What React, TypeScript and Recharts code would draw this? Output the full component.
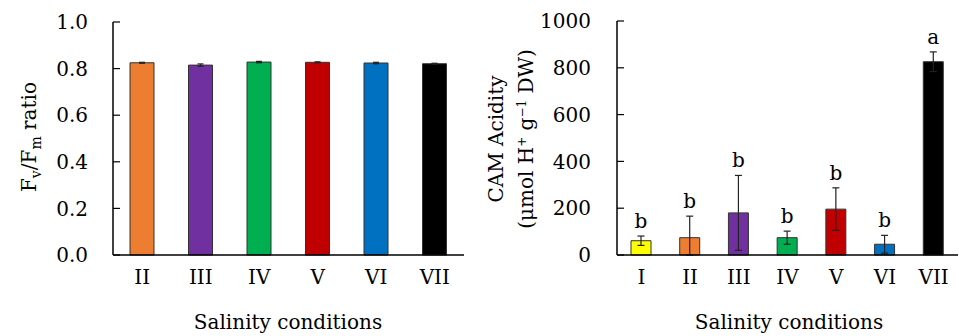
import { BarChart, Bar, XAxis, YAxis, ErrorBar, Cell, LabelList, Label } from 'recharts'

const catsA = ['II', 'III', 'IV', 'V', 'VI', 'VII']
const fvfm = [0.825, 0.815, 0.828, 0.827, 0.824, 0.821]
const fvfmErr = [0.002, 0.005, 0.003, 0.002, 0.003, 0.002]
const colorsA = ['#ED7D31', '#7030A0', '#00B050', '#C00000', '#0070C0', '#000000']
const ticksA = [0, 0.2, 0.4, 0.6, 0.8, 1.0]

const catsB = ['I', 'II', 'III', 'IV', 'V', 'VI', 'VII']
const cam = [61, 74, 180, 74, 196, 46, 826]
const camErrLow = [20, 74, 160, 28, 91, 38, 42]
const camErrHigh = [20, 92, 160, 28, 91, 38, 42]
const camLetters = ['b', 'b', 'b', 'b', 'b', 'b', 'a']
const colorsB = ['#FFFF00', '#ED7D31', '#7030A0', '#00B050', '#C00000', '#0070C0', '#000000']
const ticksB = [0, 200, 400, 600, 800, 1000]

const FONT = "'DejaVu Serif', serif"
const FS = 20
const axisLine = { stroke: '#000', strokeWidth: 1.5 }
const tickStyle = { fill: '#000', fontSize: FS, fontFamily: FONT }

const dataA = catsA.map((c, i) => ({ cat: c, v: fvfm[i], err: fvfmErr[i] }))
const dataB = catsB.map((c, i) => ({
  cat: c,
  v: cam[i],
  err: [camErrLow[i], camErrHigh[i]],
  hi: camErrHigh[i],
  letter: camLetters[i],
}))

// inward tick mark + label placed to the left of the axis
const makeYTick = (gap: number, fmt: (v: number) => string) => (props: any) => {
  const { x, y, payload } = props
  return (
    <g>
      <line x1={x} x2={x + 7} y1={y} y2={y} stroke="#000" strokeWidth={1.2} />
      <text x={x - gap} y={y} dy="0.36em" textAnchor="end" fontSize={FS} fontFamily={FONT} fill="#000">
        {fmt(payload.value)}
      </text>
    </g>
  )
}

const LetterLabel = (props: any) => {
  const { x, y, width, height, index } = props
  const d = dataB[index]
  const k = height / d.v
  const top = y - d.hi * k
  return (
    <text x={x + width / 2} y={top - 8} textAnchor="middle" fontSize={FS} fontFamily={FONT} fill="#000">
      {d.letter}
    </text>
  )
}

function PanelA() {
  return (
    <BarChart width={480} height={336} data={dataA} margin={{ top: 22, right: 16, bottom: 0, left: 0 }}>
      <XAxis dataKey="cat" height={81} axisLine={axisLine} tickLine={false} tick={tickStyle} tickMargin={9} interval={0}>
        <Label content={() => (
          <text x={288} y={329} textAnchor="middle" fontSize={FS} fontFamily={FONT} fill="#000">Salinity conditions</text>
        )} />
      </XAxis>
      <XAxis xAxisId="top" orientation="top" dataKey="cat" height={0} tick={false} tickLine={false} axisLine={axisLine}>
        <Label content={() => (
          <text x={130} y={46} fontSize={FS} fontFamily={FONT} fill="#000">A</text>
        )} />
      </XAxis>
      <YAxis domain={[0, 1]} ticks={ticksA} width={113} axisLine={axisLine} tickSize={0} tickMargin={0}
        tickLine={false} tick={makeYTick(25, (v) => v.toFixed(1))}>
        <Label content={() => (
          <text transform="rotate(-90, 36, 137)" x={36} y={137} textAnchor="middle" fontSize={FS} fontFamily={FONT} fill="#000">
            F<tspan dy={5} fontSize={14}>v</tspan><tspan dy={-5}>/F</tspan><tspan dy={5} fontSize={14}>m</tspan><tspan dy={-5}> ratio</tspan>
          </text>
        )} />
      </YAxis>
      <YAxis yAxisId="right" orientation="right" width={0} domain={[0, 1]} tick={false} tickLine={false} axisLine={axisLine} />
      <Bar dataKey="v" barSize={24} stroke="#333" strokeWidth={1} isAnimationActive={false}>
        {dataA.map((d, i) => <Cell key={d.cat} fill={colorsA[i]} />)}
        <ErrorBar dataKey="err" width={3} stroke="#222" strokeWidth={1.2} />
      </Bar>
    </BarChart>
  )
}

function PanelB() {
  return (
    <BarChart width={479} height={336} data={dataB} margin={{ top: 21, right: 1, bottom: 0, left: 0 }}>
      <XAxis dataKey="cat" height={81} axisLine={axisLine} tickLine={false} tick={tickStyle} tickMargin={9} interval={0}>
        <Label content={() => (
          <text x={309} y={329} textAnchor="middle" fontSize={FS} fontFamily={FONT} fill="#000">Salinity conditions</text>
        )} />
      </XAxis>
      <XAxis xAxisId="top" orientation="top" dataKey="cat" height={0} tick={false} tickLine={false} axisLine={axisLine}>
        <Label content={() => (
          <text x={150} y={46} fontSize={FS} fontFamily={FONT} fill="#000">B</text>
        )} />
      </XAxis>
      <YAxis domain={[0, 1000]} ticks={ticksB} width={137} axisLine={axisLine} tickSize={0} tickMargin={0}
        tickLine={false} tick={makeYTick(26, (v) => String(v))}>
        <Label content={() => (
          <g>
            <text transform="rotate(-90, 23, 139)" x={23} y={139} textAnchor="middle" fontSize={FS} fontFamily={FONT} fill="#000">
              CAM Acidity
            </text>
            <text transform="rotate(-90, 53, 139)" x={53} y={139} textAnchor="middle" fontSize={FS} fontFamily={FONT} fill="#000">
              (μmol H<tspan dy={-7} fontSize={12}>+</tspan><tspan dy={7}> g</tspan><tspan dy={-7} fontSize={12}>−1</tspan><tspan dy={7}> DW)</tspan>
            </text>
          </g>
        )} />
      </YAxis>
      <YAxis yAxisId="right" orientation="right" width={0} domain={[0, 1000]} tick={false} tickLine={false} axisLine={axisLine} />
      <Bar dataKey="v" barSize={20} stroke="#333" strokeWidth={1} isAnimationActive={false}>
        {dataB.map((d, i) => <Cell key={d.cat} fill={colorsB[i]} />)}
        <ErrorBar dataKey="err" width={3.5} stroke="#222" strokeWidth={1.2} />
        <LabelList dataKey="letter" content={LetterLabel} />
      </Bar>
    </BarChart>
  )
}

export default function App() {
  return (
    <div style={{ position: 'fixed', left: 0, top: 0, width: 959, height: 336, background: '#fff' }}>
      <div style={{ position: 'absolute', left: 0, top: 0 }}><PanelA /></div>
      <div style={{ position: 'absolute', left: 480, top: 0 }}><PanelB /></div>
    </div>
  )
}
